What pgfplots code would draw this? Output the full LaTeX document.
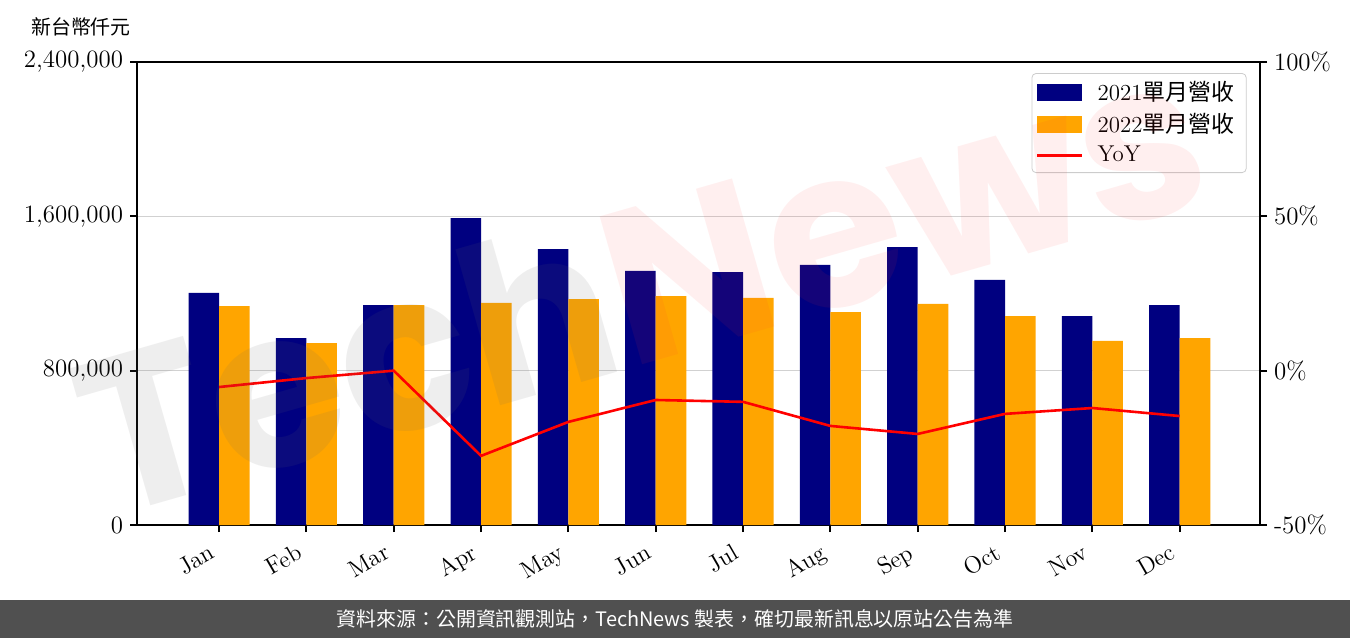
\documentclass[border=0pt]{standalone}
\usepackage{fontspec}
\usepackage{pgfplots}
\pgfplotsset{compat=1.18}
\newfontfamily\cjk{Noto Sans CJK TC}
\newfontfamily\wm{Poppins}
\definecolor{navyc}{RGB}{0,0,128}
\definecolor{orangec}{RGB}{255,165,0}
\definecolor{banner}{RGB}{80,80,80}
\begin{document}
\begin{tikzpicture}[x=1bp,y=1bp]
\useasboundingbox (0,0) rectangle (675,319);
\fill[banner] (0,0) rectangle (675,19);
\node[text=white, font=\cjk\fontsize{10}{12}\selectfont] at (337.5,9.6) {資料來源：公開資訊觀測站，TechNews 製表，確切最新訊息以原站公告為準};
\node[font=\cjk\fontsize{10}{12}\selectfont] at (40.5,305.5) {新台幣仟元};
\begin{axis}[
  at={(68.5bp,56.5bp)}, anchor=south west,
  scale only axis, width=561.5bp, height=231.5bp,
  xmin=-0.94, xmax=11.92, ymin=0, ymax=2400000,
  scaled y ticks=false,
  xtick={0,...,11},
  xticklabels={Jan,Feb,Mar,Apr,May,Jun,Jul,Aug,Sep,Oct,Nov,Dec},
  x tick label style={rotate=30, anchor=north east, font=\fontsize{12}{13}\selectfont, xshift=-4bp, yshift=1.5bp},
  ytick={0,800000,1600000,2400000},
  yticklabels={0,{800,000},{1,600,000},{2,400,000}},
  y tick label style={font=\fontsize{12.5}{13}\selectfont},
  ymajorgrids, grid style={draw=black!18, line width=0.6bp},
  axis line style={line width=1bp},
  tick style={line width=1bp, black},
  tick align=outside, major tick length=3.5bp,
  xtick pos=left, ytick pos=left,
  legend style={at={(0.988,0.976)}, anchor=north east, draw=black!20, rounded corners=2bp,
    font=\fontsize{11.5}{12}\selectfont, row sep=0pt, inner xsep=2bp, inner ysep=1.5bp,
    nodes={inner xsep=4bp, inner ysep=2.5bp}},
  legend cell align=left,
]
\addplot[ybar, bar width=0.35, bar shift=-0.175, fill=navyc, draw=none,
  legend image code/.code={\fill[navyc, sharp corners] (0bp,-4.25bp) rectangle (22.5bp,4.25bp);}]
coordinates {(0,1202600) (1,969000) (2,1140000) (3,1591000) (4,1430000) (5,1317000)
 (6,1311000) (7,1348000) (8,1441000) (9,1270000) (10,1083000) (11,1140000)};
\addlegendentry{\hspace{3bp}2021{\cjk 單月營收}}
\addplot[ybar, bar width=0.35, bar shift=0.175, fill=orangec, draw=none,
  legend image code/.code={\fill[orangec, sharp corners] (0bp,-4.25bp) rectangle (22.5bp,4.25bp);}]
coordinates {(0,1135000) (1,943000) (2,1140000) (3,1151000) (4,1171000) (5,1187000)
 (6,1177000) (7,1104000) (8,1146000) (9,1083000) (10,954000) (11,969000)};
\addlegendentry{\hspace{3bp}2022{\cjk 單月營收}}
\addlegendimage{red, line width=1.3bp, legend image code/.code={\draw[red, line width=1.3bp, sharp corners] (0bp,0bp) -- (22.5bp,0bp);}}
\addlegendentry{\hspace{3bp}YoY}
\end{axis}
\begin{axis}[
  at={(68.5bp,56.5bp)}, anchor=south west,
  scale only axis, width=561.5bp, height=231.5bp,
  xmin=-0.94, xmax=11.92, ymin=-50, ymax=100,
  axis x line=none, axis y line*=right,
  ytick={-50,0,50,100},
  yticklabels={-50\%,0\%,50\%,100\%},
  y tick label style={font=\fontsize{12.5}{13}\selectfont},
  axis line style={line width=1bp},
  tick style={line width=1bp, black},
  tick align=outside, major tick length=3.5bp,
]
\addplot[red, line width=1.3bp, mark=none] coordinates {(0,-5.3) (1,-2.4) (2,0) (3,-27.6) (4,-16.6) (5,-9.5)
 (6,-10.1) (7,-17.9) (8,-20.5) (9,-14.0) (10,-12.1) (11,-14.7)};
\end{axis}
\node[rotate=16, font=\wm\bfseries\fontsize{110}{115}\selectfont, inner sep=0] at (320,178)
 {\textcolor{black!60}{\pgfsetfillopacity{0.11}Tech}\textcolor{red!80}{\pgfsetfillopacity{0.08}News}};
\end{tikzpicture}
\end{document}
